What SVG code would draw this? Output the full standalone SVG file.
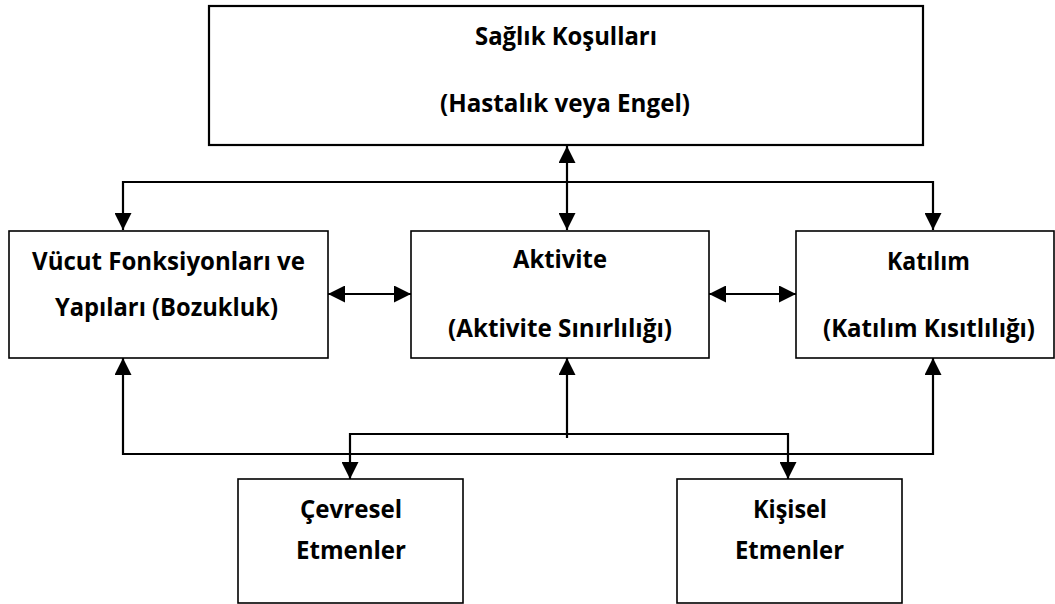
<svg xmlns="http://www.w3.org/2000/svg" width="1055" height="604" viewBox="0 0 1055 604">
<style>
.box{fill:#fff;stroke:#000;stroke-width:1.6}
.top{stroke-width:2.2}
.lbl{font-family:"Open Sans",Lato,"Liberation Sans",sans-serif;font-weight:bold;font-size:25px;fill:#000;text-anchor:middle}
.con{fill:none;stroke:#000;stroke-width:2.2}
</style>
<defs>
<marker id="ah" markerUnits="userSpaceOnUse" markerWidth="17" markerHeight="17" viewBox="0 0 15 15" refX="15" refY="7.5" orient="auto-start-reverse">
<path d="M0,0 L15,7.5 L0,15 Z" fill="#000"/>
</marker>
</defs>
<rect width="1055" height="604" fill="#fff"/>
<g id="connectors">
<path class="con" d="M567,146 L567,230" marker-start="url(#ah)" marker-end="url(#ah)"/>
<path class="con" d="M123,230 L123,182 L933,182 L933,230" marker-start="url(#ah)" marker-end="url(#ah)"/>
<path class="con" d="M328,294 L411,294" marker-start="url(#ah)" marker-end="url(#ah)"/>
<path class="con" d="M709,294 L796,294" marker-start="url(#ah)" marker-end="url(#ah)"/>
<path class="con" d="M123,358 L123,454 L933,454 L933,358" marker-start="url(#ah)" marker-end="url(#ah)"/>
<path class="con" d="M567,438 L567,358" marker-end="url(#ah)"/>
<path class="con" d="M350,479 L350,434 L788,434 L788,479" marker-start="url(#ah)" marker-end="url(#ah)"/>
</g>
<g id="saglik">
<rect class="box top" x="209" y="6" width="714" height="139"/>
<text class="lbl" x="566" y="45" textLength="182" lengthAdjust="spacingAndGlyphs">Sağlık Koşulları</text>
<text class="lbl" x="565" y="112" textLength="250" lengthAdjust="spacingAndGlyphs">(Hastalık veya Engel)</text>
</g>
<g id="vucut">
<rect class="box" x="9" y="231" width="319" height="127"/>
<text class="lbl" x="168.5" y="270" textLength="273" lengthAdjust="spacingAndGlyphs">Vücut Fonksiyonları ve</text>
<text class="lbl" x="166.5" y="316" textLength="223" lengthAdjust="spacingAndGlyphs">Yapıları (Bozukluk)</text>
</g>
<g id="aktivite">
<rect class="box" x="411" y="231" width="298" height="127"/>
<text class="lbl" x="560" y="268" textLength="94" lengthAdjust="spacingAndGlyphs">Aktivite</text>
<text class="lbl" x="560" y="337" textLength="224" lengthAdjust="spacingAndGlyphs">(Aktivite Sınırlılığı)</text>
</g>
<g id="katilim">
<rect class="box" x="796" y="231" width="258" height="127"/>
<text class="lbl" x="928.5" y="270" textLength="83" lengthAdjust="spacingAndGlyphs">Katılım</text>
<text class="lbl" x="929" y="337" textLength="212" lengthAdjust="spacingAndGlyphs">(Katılım Kısıtlılığı)</text>
</g>
<g id="cevresel">
<rect class="box" x="238" y="479" width="225" height="124"/>
<text class="lbl" x="351" y="518" textLength="102" lengthAdjust="spacingAndGlyphs">Çevresel</text>
<text class="lbl" x="351" y="559" textLength="110" lengthAdjust="spacingAndGlyphs">Etmenler</text>
</g>
<g id="kisisel">
<rect class="box" x="677" y="479" width="225" height="124"/>
<text class="lbl" x="790" y="518" textLength="74" lengthAdjust="spacingAndGlyphs">Kişisel</text>
<text class="lbl" x="789.5" y="559" textLength="109" lengthAdjust="spacingAndGlyphs">Etmenler</text>
</g>
</svg>
